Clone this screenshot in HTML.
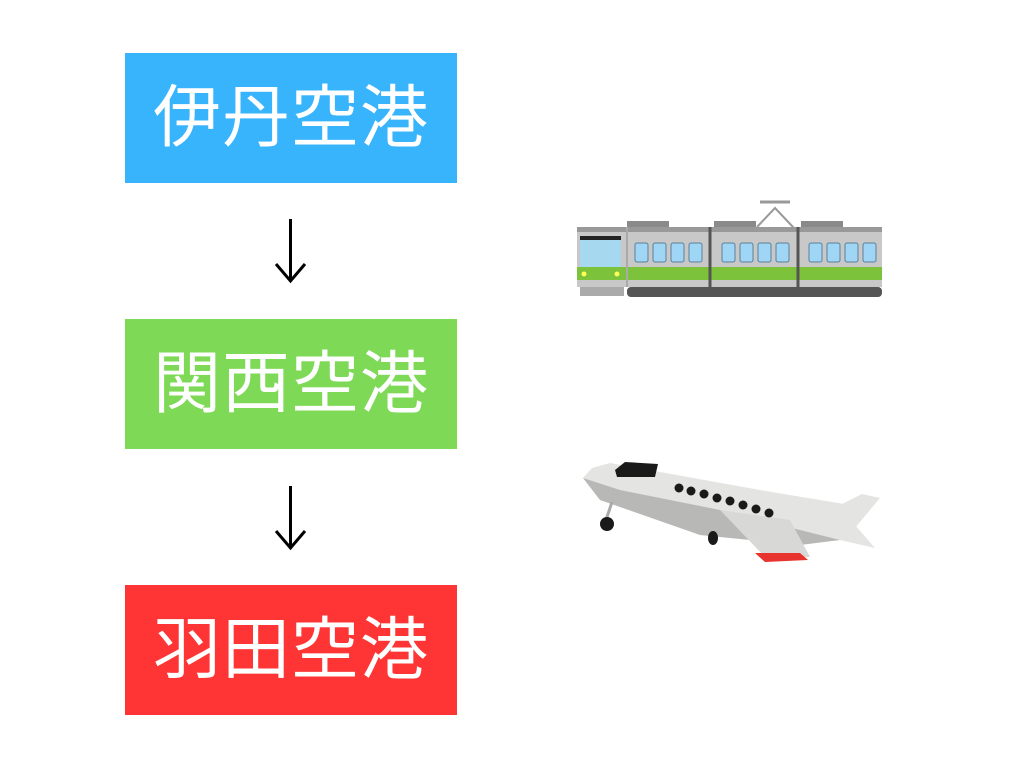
<!DOCTYPE html>
<html><head><meta charset="utf-8"><style>
html,body{margin:0;padding:0;background:#fff;width:1024px;height:768px;overflow:hidden;position:relative}
.b{position:absolute;left:125px;width:332px;height:130px;color:#fff;font-family:"Liberation Sans","Noto Sans CJK JP",sans-serif;font-size:68px;line-height:130px;text-align:center;letter-spacing:1px}
</style></head><body>
<div class="b" style="top:53px;background:#38b4fd">伊丹空港</div>
<div class="b" style="top:319px;background:#7ed957">関西空港</div>
<div class="b" style="top:585px;background:#ff3434">羽田空港</div>
<svg style="position:absolute;left:0;top:0" width="1024" height="768">
<g fill="none" stroke="#000" stroke-width="3">
<line x1="290.5" y1="219" x2="290.5" y2="281"/>
<polyline points="276,264 290.5,281 305,264"/>
<line x1="290.5" y1="486" x2="290.5" y2="548"/>
<polyline points="276,531 290.5,548 305,531"/>
</g>
<!-- train -->
<g>
<polyline points="757,227 775,208 793,227 775,246" fill="none" stroke="#999" stroke-width="2"/>
<line x1="760" y1="202" x2="790" y2="202" stroke="#999" stroke-width="3"/>
<rect x="627" y="221" width="42" height="8" fill="#8a8a8a"/>
<rect x="714" y="221" width="42" height="8" fill="#8a8a8a"/>
<rect x="801" y="221" width="42" height="8" fill="#8a8a8a"/>
<rect x="577" y="227" width="305" height="60" fill="#c8c8c8"/>
<rect x="577" y="227" width="305" height="5" fill="#999"/>
<rect x="577" y="267" width="305" height="13" fill="#7cc23a"/>
<rect x="580" y="237" width="41" height="30" fill="#a6d8f0"/>
<rect x="580" y="236" width="41" height="4" fill="#222"/>
<circle cx="584" cy="274" r="2.5" fill="#ff5"/><circle cx="617" cy="274" r="2.5" fill="#ff5"/>
<line x1="627" y1="227" x2="627" y2="287" stroke="#aaa" stroke-width="2"/>
<line x1="710" y1="227" x2="710" y2="287" stroke="#555" stroke-width="3"/>
<line x1="798" y1="227" x2="798" y2="287" stroke="#555" stroke-width="3"/>
<g fill="#9fd6f5" stroke="#5a7f99" stroke-width="1">
<rect x="635" y="243" width="13" height="19" rx="2"/><rect x="653" y="243" width="13" height="19" rx="2"/><rect x="671" y="243" width="13" height="19" rx="2"/><rect x="689" y="243" width="13" height="19" rx="2"/>
<rect x="722" y="243" width="13" height="19" rx="2"/><rect x="740" y="243" width="13" height="19" rx="2"/><rect x="758" y="243" width="13" height="19" rx="2"/><rect x="776" y="243" width="13" height="19" rx="2"/>
<rect x="809" y="243" width="13" height="19" rx="2"/><rect x="827" y="243" width="13" height="19" rx="2"/><rect x="845" y="243" width="13" height="19" rx="2"/><rect x="863" y="243" width="13" height="19" rx="2"/>
</g>
<rect x="580" y="287" width="44" height="9" fill="#aaa"/>
<rect x="627" y="287" width="255" height="10" rx="4" fill="#555"/>
</g>
<!-- plane -->
<g>
<polygon points="840,505 862,494 880,498 855,528" fill="#e4e4e2"/>
<polygon points="583,478 592,468 610,463 760,490 850,505 855,525 875,548 840,540 800,545 700,535 640,512 600,500" fill="#e4e4e2"/>
<polygon points="583,478 600,500 700,535 800,545 840,540 720,510 620,490" fill="#b8b8b6"/>
<polygon points="720,510 790,520 810,557 765,557" fill="#d8d8d6"/>
<polygon points="755,553 800,553 808,560 765,562" fill="#e8322e"/>
<polygon points="615,470 625,462 658,464 655,477 617,477" fill="#1a1a1a"/>
<line x1="612" y1="502" x2="606" y2="520" stroke="#aaa" stroke-width="3"/>
<circle cx="607" cy="524" r="7" fill="#1a1a1a"/>
<ellipse cx="713" cy="538" rx="5" ry="7" fill="#1a1a1a"/>
<g fill="#1a1a1a">
<circle cx="679" cy="488" r="4.5"/><circle cx="691" cy="491" r="4.5"/><circle cx="704" cy="494" r="4.5"/><circle cx="717" cy="498" r="4.5"/><circle cx="730" cy="501" r="4.5"/><circle cx="743" cy="505" r="4.5"/><circle cx="756" cy="509" r="4.5"/><circle cx="769" cy="513" r="4.5"/>
</g>
</g>
</svg>
</body></html>
